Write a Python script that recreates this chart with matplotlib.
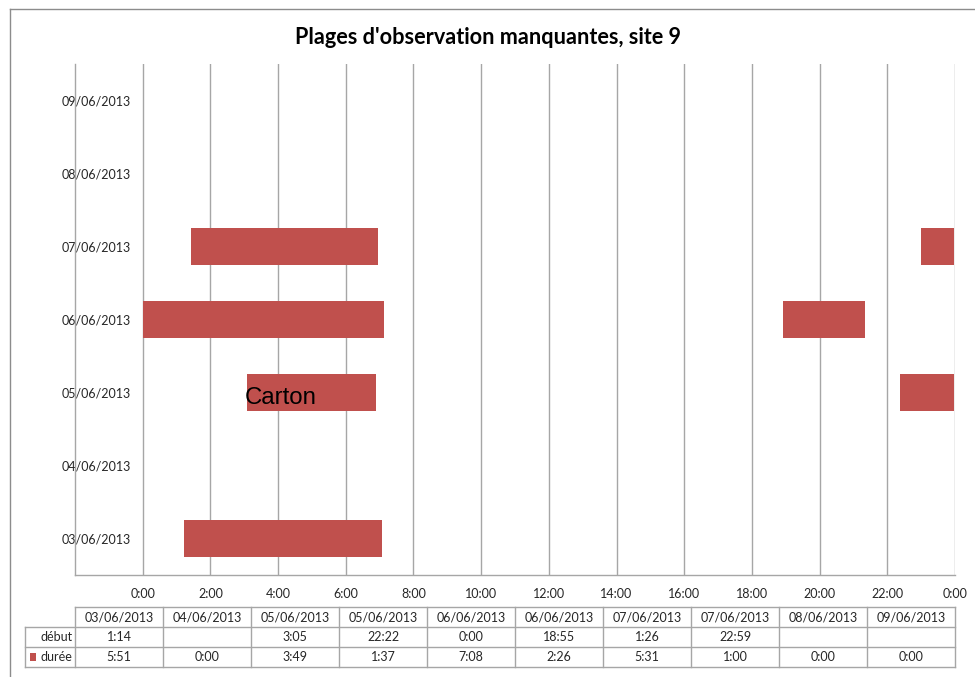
import matplotlib
matplotlib.use("Agg")
import matplotlib.pyplot as plt
from matplotlib.lines import Line2D
from matplotlib.patches import Rectangle

categories = ["03/06/2013", "04/06/2013", "05/06/2013", "05/06/2013", "06/06/2013",
              "06/06/2013", "07/06/2013", "07/06/2013", "08/06/2013", "09/06/2013"]
debut = ["1:14", "", "3:05", "22:22", "0:00", "18:55", "1:26", "22:59", "", ""]
duree = ["5:51", "0:00", "3:49", "1:37", "7:08", "2:26", "5:31", "1:00", "0:00", "0:00"]
date_rows = ["03/06/2013", "04/06/2013", "05/06/2013", "06/06/2013",
             "07/06/2013", "08/06/2013", "09/06/2013"]
x_ticks_h = [0, 2, 4, 6, 8, 10, 12, 14, 16, 18, 20, 22, 24]
x_tick_labels = ["0:00", "2:00", "4:00", "6:00", "8:00", "10:00", "12:00", "14:00",
                 "16:00", "18:00", "20:00", "22:00", "0:00"]
title = "Plages d'observation manquantes, site 9"
note = "Carton"


def to_hours(s):
    if not s:
        return 0.0
    h, m = s.split(":")
    return int(h) + int(m) / 60.0


starts = [to_hours(s) for s in debut]
durs = [to_hours(s) for s in duree]
ypos = [date_rows.index(c) for c in categories]

W, H = 975, 677
fig = plt.figure(figsize=(W / 100, H / 100), dpi=100)
fig.patch.set_facecolor("white")

FONT = "Lato"
TXT = "#262626"
GRID = "#a6a6a6"
RED = "#c0504d"


def fx(px):
    return px / W


def fy(py):
    return 1 - py / H


# chart border
fig.add_artist(Line2D([fx(10), fx(10)], [fy(9), 0], color="#8c8c8c", lw=1.0))
fig.add_artist(Line2D([fx(10), 1], [fy(9), fy(9)], color="#8c8c8c", lw=1.0))

# title
fig.text(fx(488), fy(37), title, ha="center", va="center", fontsize=15.6,
         fontweight="bold", family=FONT, color="black")

# main axes
L, R, T, B = 75, 955, 64, 575
ax = fig.add_axes([fx(L), fy(B), fx(R - L), (B - T) / H])
ax.set_xlim(-2, 24)
ax.set_ylim(-0.5, len(date_rows) - 0.5)

ax.barh(ypos, durs, left=starts, height=0.52, color=RED, linewidth=0, zorder=3)

ax.set_xticks(x_ticks_h)
ax.set_xticklabels(x_tick_labels, family=FONT, fontsize=9, color=TXT)
ax.set_yticks(range(len(date_rows)))
ax.set_yticklabels(date_rows, family=FONT, fontsize=9, color=TXT)
ax.tick_params(axis="x", length=0, pad=9)
ax.tick_params(axis="y", length=0, pad=-40.5)
ax.grid(axis="x", color=GRID, lw=1.0, zorder=0)
ax.set_axisbelow(True)
for s in ("top", "right"):
    ax.spines[s].set_visible(False)
for s in ("left", "bottom"):
    ax.spines[s].set_color(GRID)
    ax.spines[s].set_linewidth(1.0)

# annotation text box
ax.text(starts[2] - 0.08, 2 - 12 / 73, note, ha="left", va="baseline",
        fontsize=17.3, family="Liberation Sans", color="black", zorder=5)

# ---- data table ----
n = len(categories)
tb_top, tb_bot = 607, 667
tax = fig.add_axes([fx(L), fy(tb_bot), fx(R - L), (tb_bot - tb_top) / H])
tax.set_xlim(0, n)
tax.set_ylim(3, 0)
tax.axis("off")
lab_x = -(L - 25) / ((R - L) / n)  # row-label column left edge, in column units
lc = GRID
kw = dict(color=lc, lw=1.0, clip_on=False)
tax.plot([0, n], [0, 0], **kw)
for r in (1, 2, 3):
    tax.plot([lab_x, n], [r, r], **kw)
tax.plot([lab_x, lab_x], [1, 3], **kw)
for c in range(n + 1):
    tax.plot([c, c], [0, 3], **kw)

tkw = dict(family=FONT, fontsize=9, color=TXT, va="center")
for i, cat in enumerate(categories):
    tax.text(i + 0.5, 0.5, cat, ha="center", **tkw)
    tax.text(i + 0.5, 1.5, debut[i], ha="center", **tkw)
    tax.text(i + 0.5, 2.5, duree[i], ha="center", **tkw)
tax.text(-0.03, 1.5, "début", ha="right", clip_on=False, **tkw)
tax.text(-0.03, 2.5, "durée", ha="right", clip_on=False, **tkw)
# legend key
cw = (R - L) / n
tax.add_patch(Rectangle(((30 - L) / cw, 2.5 - 0.18), 6.5 / cw, 0.36,
                        color=RED, clip_on=False, lw=0))

fig.savefig("out.png", dpi=100, facecolor="white")
